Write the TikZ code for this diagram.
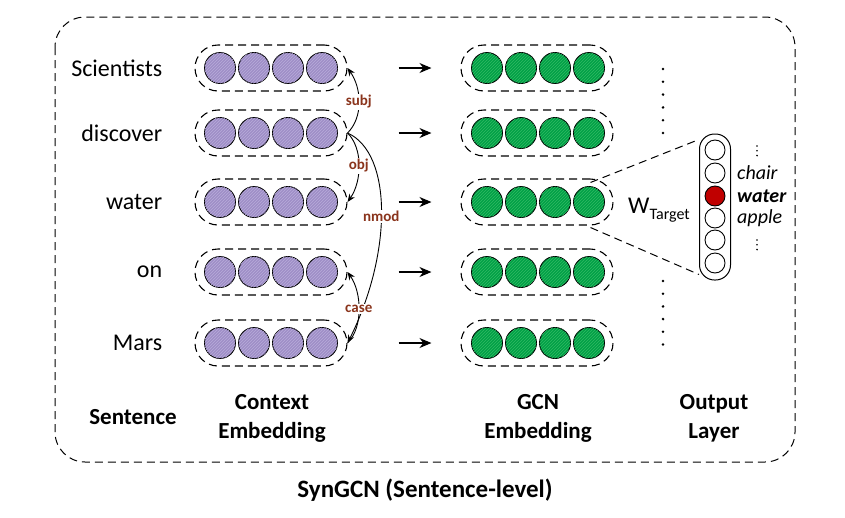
\documentclass[tikz,border=0pt]{standalone}
\usepackage{fontspec}
\setmainfont{Carlito}
\usetikzlibrary{arrows.meta,positioning,patterns}
\definecolor{ctxpurple}{RGB}{158,142,199}
\definecolor{ctxhatch}{RGB}{184,172,218}
\definecolor{gcngreen}{RGB}{0,160,70}
\definecolor{gcnhatch}{RGB}{50,185,100}
\definecolor{outred}{RGB}{192,0,0}
\definecolor{deplabel}{RGB}{138,52,28}

\begin{document}
\begin{tikzpicture}[x=1pt,y=-1pt,
    capsule/.style={
      draw,
      dash pattern=on 8pt off 5pt,
      line width=1.1pt,
      rectangle,
      rounded corners=23pt,
      minimum width=152pt,
      minimum height=46pt
    },
    ball/.style={circle, draw, line width=0.9pt, minimum size=31pt, inner sep=0pt},
    ctxball/.style={ball, fill=ctxpurple,
      postaction={pattern=north east lines, pattern color=ctxhatch}},
    gcnball/.style={ball, fill=gcngreen,
      postaction={pattern=north east lines, pattern color=gcnhatch}},
    outbox/.style={draw, line width=1pt, rectangle, rounded corners=15pt,
      minimum width=31pt, minimum height=146pt},
    outball/.style={circle, draw, line width=0.9pt, minimum size=20pt,
      inner sep=0pt, fill=white},
    word/.style={font=\fontsize{24}{28}\selectfont, inner sep=0pt},
    layer/.style={font=\fontsize{23}{29}\selectfont\bfseries, align=center},
    vocab/.style={anchor=west, inner sep=0pt, font=\fontsize{20}{22}\selectfont\itshape},
    dep/.style={-{Stealth[length=8pt,width=6.5pt]}, line width=0.9pt},
    deplbl/.style={font=\fontsize{15}{15}\selectfont\bfseries, text=deplabel,
      fill=white, inner sep=1pt},
    >={Stealth[length=12pt,width=10pt]}
  ]
  \useasboundingbox (0,0) rectangle (845,517);

  % outer frame
  \draw[dash pattern=on 8pt off 5pt, line width=1pt, rounded corners=30pt]
    (55,17) rectangle (795,462);

  % context embedding
  \node[capsule] (c1) at (271,68) {};
  \node[capsule] (c2) at (271,133) {};
  \node[capsule] (c3) at (271,202) {};
  \node[capsule] (c4) at (271,272) {};
  \node[capsule] (c5) at (271,343) {};

  % gcn embedding
  \node[capsule] (g1) at (537,68) {};
  \node[capsule] (g2) at (537,133) {};
  \node[capsule] (g3) at (537,202) {};
  \node[capsule] (g4) at (537,272) {};
  \node[capsule] (g5) at (537,343) {};

  \foreach \r/\y in {1/68,2/133,3/202,4/272,5/343}
    \foreach \i in {0,...,3} {
      \node[ctxball] (c\r-\i) at (220+34*\i,\y) {};
      \node[gcnball] (g\r-\i) at (487+34*\i,\y) {};
    }

  % words
  \node[word,left=32pt of c1,anchor=east] (w1) {Scientists};
  \node[word,left=32pt of c2,anchor=east] (w2) {discover};
  \node[word,left=32pt of c3,anchor=east] (w3) {water};
  \node[word,left=32pt of c4,anchor=east] (w4) {on};
  \node[word,left=32pt of c5,anchor=east] (w5) {Mars};

  \draw[->, line width=1.2pt, shorten <=51pt, shorten >=29pt] (c1) -- (g1);
  \draw[->, line width=1.2pt, shorten <=51pt, shorten >=29pt] (c2) -- (g2);
  \draw[->, line width=1.2pt, shorten <=51pt, shorten >=29pt] (c3) -- (g3);
  \draw[->, line width=1.2pt, shorten <=51pt, shorten >=29pt] (c4) -- (g4);
  \draw[->, line width=1.2pt, shorten <=51pt, shorten >=29pt] (c5) -- (g5);

  % dependency arcs
  \draw[dep] (c2.east) .. controls +(16,-16) and +(14,20) .. node[deplbl] {subj} (c1.east);
  \draw[dep] (c2.east) .. controls +(16,16) and +(14,-20) .. node[deplbl] {obj} (c3.east);
  \draw[dep] (c2.east) .. controls +(45,20) and +(45,-90) .. node[deplbl,pos=0.52] {nmod} (c5.east);
  \draw[dep] (c5.east) .. controls +(16,-16) and +(14,20) .. node[deplbl] {case} (c4.east);

  % output layer
  \foreach \k in {0,...,5} {
    \fill (663,69+12.8*\k) circle (1.4);
    \fill (663,281+12.7*\k) circle (1.4);
  }
  \foreach \k in {0,1,2} {
    \fill (757,146+4.8*\k) circle (0.9);
    \fill (757,240+4.8*\k) circle (0.9);
  }
  \node[outbox] (out) at (715,207) {};
  \draw[dash pattern=on 8pt off 5pt, line width=1pt]
    ([xshift=-23pt,yshift=-4pt]g3.north east) -- ([yshift=-6pt]out.north west);
  \draw[dash pattern=on 8pt off 5pt, line width=1pt]
    ([xshift=-23pt,yshift=-2pt]g3.south east) -- ([yshift=6pt]out.south west);
  \foreach \i/\y in {1/150,2/173,4/218,5/240,6/263}
    \node[outball] (o\i) at (715,\y) {};
  \node[outball,fill=outred] (o3) at (715,196) {};

  \node[word] (wt) at (659,210) {W\raisebox{-6pt}{\fontsize{16}{16}\selectfont Target}};
  \node[vocab] (chair) at (737,173) {chair};
  \node[vocab,font=\fontsize{20}{22}\selectfont\bfseries\itshape] (water) at (737,196) {water};
  \node[vocab] (apple) at (737,218) {apple};

  % layer names
  \node[layer] (lsent) at (133,417) {Sentence};
  \node[layer] (lctx) at (272,418) {Context\\Embedding};
  \node[layer] (lgcn) at (538,418) {GCN\\Embedding};
  \node[layer] (lout) at (714,418) {Output\\Layer};

  \node[font=\fontsize{25}{30}\selectfont\bfseries] (title) at (425,490) {SynGCN (Sentence-level)};
\end{tikzpicture}
\end{document}
